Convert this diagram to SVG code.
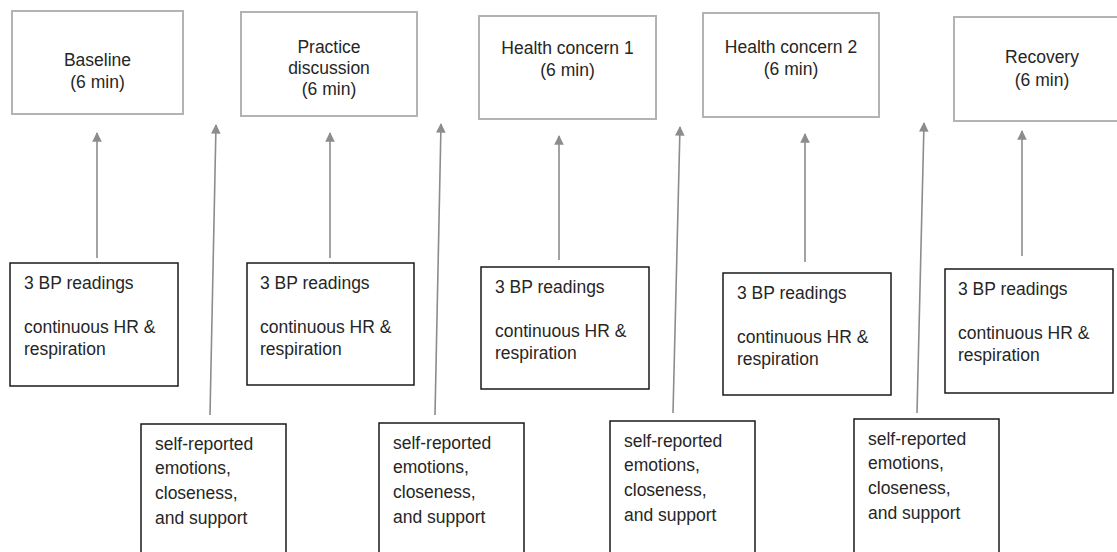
<svg xmlns="http://www.w3.org/2000/svg" width="1117" height="552" viewBox="0 0 1117 552">
<style>
.top{fill:#fff;stroke:#b3b3b3;stroke-width:2}
.box{fill:#fff;stroke:#1a1a1a;stroke-width:1.5}
text{font-family:"Liberation Sans",Arial,sans-serif;font-size:17.5px;fill:#262626}
.c{text-anchor:middle}
.arr{stroke:#8c8c8c;stroke-width:1.6;fill:none;marker-end:url(#ah)}
</style>
<defs>
<marker id="ah" viewBox="0 0 10 10" refX="9" refY="5" markerWidth="6" markerHeight="6" markerUnits="strokeWidth" orient="auto">
<path d="M0,0 L10,5 L0,10 z" fill="#8c8c8c"/>
</marker>
</defs>
<g id="connectors">
<line class="arr" x1="97" y1="258" x2="97" y2="133"/>
<line class="arr" x1="210" y1="415" x2="216" y2="125"/>
<line class="arr" x1="330" y1="258" x2="330" y2="133"/>
<line class="arr" x1="435" y1="415" x2="441" y2="124"/>
<line class="arr" x1="559" y1="260" x2="559" y2="136"/>
<line class="arr" x1="673" y1="413" x2="680" y2="127"/>
<line class="arr" x1="805" y1="262" x2="805" y2="134"/>
<line class="arr" x1="917" y1="413" x2="924" y2="123"/>
<line class="arr" x1="1022" y1="256" x2="1022" y2="131"/>
</g>
<g id="baseline">
<rect class="top" x="12" y="11" width="171" height="103"/>
<text class="c" x="97.5" y="66">Baseline</text>
<text class="c" x="97.5" y="88">(6 min)</text>
</g>
<g id="practice">
<rect class="top" x="241" y="12" width="176" height="104"/>
<text class="c" x="329" y="53">Practice</text>
<text class="c" x="329" y="74">discussion</text>
<text class="c" x="329" y="95">(6 min)</text>
</g>
<g id="hc1">
<rect class="top" x="479" y="16" width="177" height="103"/>
<text class="c" x="567.5" y="54">Health concern 1</text>
<text class="c" x="567.5" y="76">(6 min)</text>
</g>
<g id="hc2">
<rect class="top" x="703" y="13" width="176" height="104"/>
<text class="c" x="791" y="53">Health concern 2</text>
<text class="c" x="791" y="75">(6 min)</text>
</g>
<g id="recovery">
<rect class="top" x="954" y="17" width="180" height="104"/>
<text class="c" x="1042" y="63">Recovery</text>
<text class="c" x="1042" y="86">(6 min)</text>
</g>
<g id="bp1">
<rect class="box" x="10" y="263" width="168" height="123"/>
<text x="24" y="289">3 BP readings</text>
<text x="24" y="333">continuous HR &amp;</text>
<text x="24" y="355">respiration</text>
</g>
<g id="bp2">
<rect class="box" x="247" y="263" width="167" height="122"/>
<text x="260" y="289">3 BP readings</text>
<text x="260" y="333">continuous HR &amp;</text>
<text x="260" y="355">respiration</text>
</g>
<g id="bp3">
<rect class="box" x="481" y="267" width="168" height="122"/>
<text x="495" y="293">3 BP readings</text>
<text x="495" y="337">continuous HR &amp;</text>
<text x="495" y="359">respiration</text>
</g>
<g id="bp4">
<rect class="box" x="723" y="273" width="168" height="122"/>
<text x="737" y="299">3 BP readings</text>
<text x="737" y="343">continuous HR &amp;</text>
<text x="737" y="365">respiration</text>
</g>
<g id="bp5">
<rect class="box" x="945" y="269" width="168" height="124"/>
<text x="958" y="295">3 BP readings</text>
<text x="958" y="339">continuous HR &amp;</text>
<text x="958" y="361">respiration</text>
</g>
<g id="sr1">
<rect class="box" x="141" y="424" width="145" height="140"/>
<text x="155" y="450">self-reported</text>
<text x="155" y="474">emotions,</text>
<text x="155" y="499">closeness,</text>
<text x="155" y="524">and support</text>
</g>
<g id="sr2">
<rect class="box" x="379" y="423" width="145" height="140"/>
<text x="393" y="449">self-reported</text>
<text x="393" y="473">emotions,</text>
<text x="393" y="498">closeness,</text>
<text x="393" y="523">and support</text>
</g>
<g id="sr3">
<rect class="box" x="610" y="421" width="145" height="140"/>
<text x="624" y="447">self-reported</text>
<text x="624" y="471">emotions,</text>
<text x="624" y="496">closeness,</text>
<text x="624" y="521">and support</text>
</g>
<g id="sr4">
<rect class="box" x="854" y="419" width="145" height="140"/>
<text x="868" y="445">self-reported</text>
<text x="868" y="469">emotions,</text>
<text x="868" y="494">closeness,</text>
<text x="868" y="519">and support</text>
</g>
</svg>
